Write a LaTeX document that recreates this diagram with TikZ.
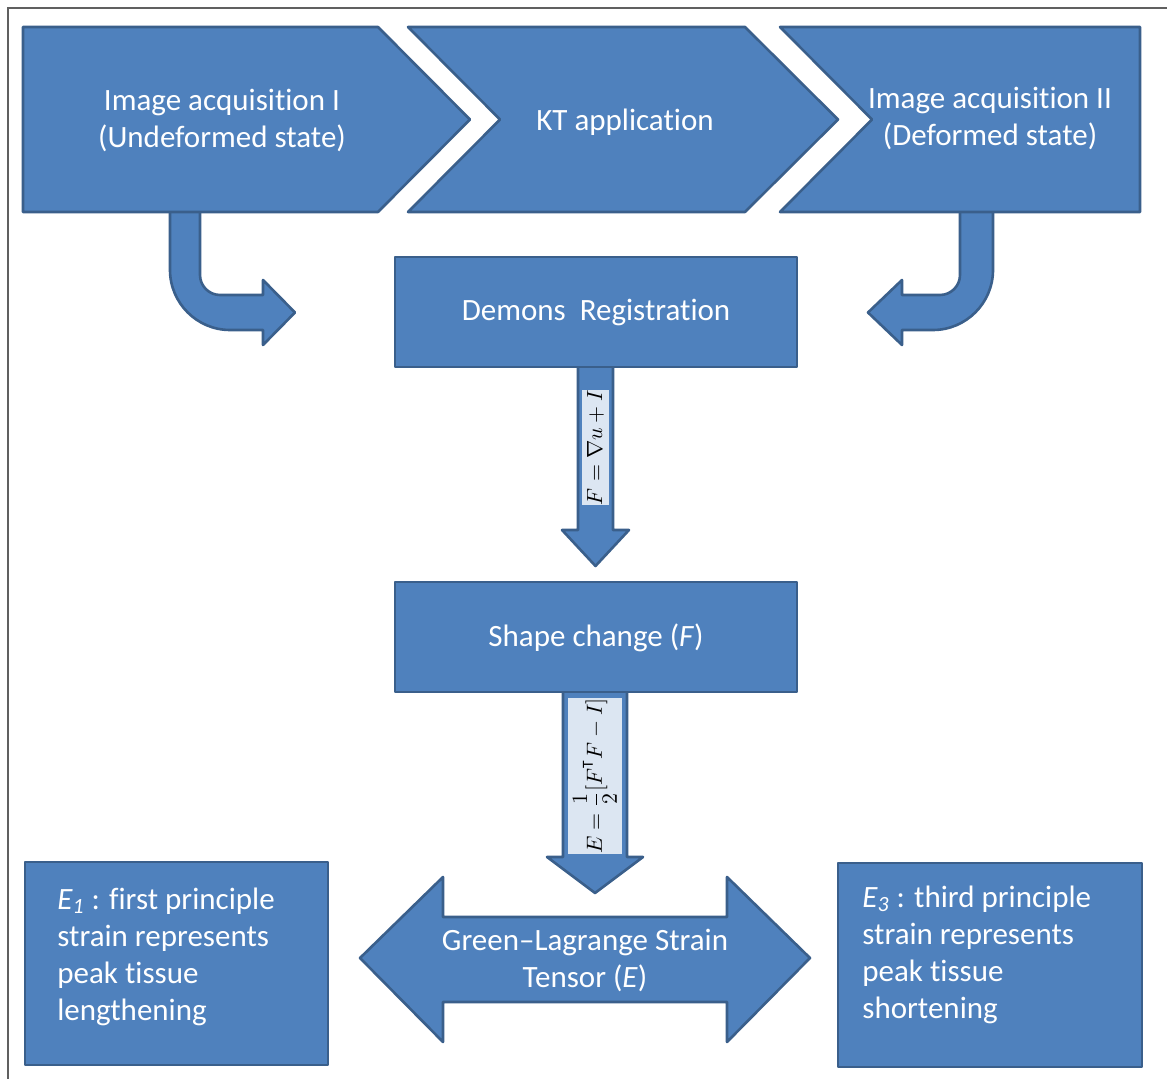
\documentclass[tikz,border=0pt]{standalone}
\usepackage{fontspec}
\setmainfont{Carlito}[Ligatures={TeX,NoCommon}]
\usepackage{amsmath}
\definecolor{blk}{HTML}{4F81BD}
\definecolor{blkline}{HTML}{3A5F8B}
\definecolor{labfill}{HTML}{DCE6F2}
\definecolor{frame}{HTML}{606060}
\begin{document}
\begin{tikzpicture}[x=0.5pt,y=-0.5pt,
  shp/.style={fill=blk,draw=blkline,line width=1.3pt,line join=round},
  txt/.style={text=white,font=\fontsize{15.5}{18.5}\selectfont,align=center,inner sep=0pt},
  ltxt/.style={text=white,font=\fontsize{15.5}{18.5}\selectfont,align=left,inner sep=0pt,anchor=west},
  lab/.style={fill=labfill,rotate=90,inner sep=0pt,font=\fontsize{11}{13}\selectfont}]
\useasboundingbox (0,0) rectangle (1167,1079);
\fill[white] (0,0) rectangle (1167,1079);
% frame
\draw[frame,line width=0.6pt] (8,1079) -- (8,8) -- (1167,8);
% bent arrows (under chevrons)
\draw[shp] (170,200) -- (170,270) .. controls (170,303) and (197,330) .. (230,330)
  -- (263,330) -- (263,345) -- (295,312.5) -- (263,280) -- (263,295) -- (220,295)
  .. controls (209,295) and (200,286) .. (200,275) -- (200,200) -- cycle;
\draw[shp] (993,200) -- (993,270) .. controls (993,303) and (966,330) .. (933,330)
  -- (902,330) -- (902,345) -- (868,312.5) -- (902,280) -- (902,295) -- (940,295)
  .. controls (951,295) and (960,286) .. (960,275) -- (960,200) -- cycle;
% chevrons
\draw[shp] (23,27) -- (378,27) -- (470,119.5) -- (378,212) -- (23,212) -- cycle;
\draw[shp] (408,27) -- (745,27) -- (838,119.5) -- (745,212) -- (408,212) -- (500,119.5) -- cycle;
\draw[shp] (780,27) -- (1140,27) -- (1140,212) -- (780,212) -- (872,119.5) -- cycle;
\node[txt] (acq1) at (222,120.5) {Image acquisition I\\(Undeformed state)};
\node[txt] (kt) at (625,122) {KT application};
\node[txt] (acq2) at (990,118.5) {Image acquisition II\\(Deformed state)};
% down arrows
\draw[shp] (578,360) -- (578,530) -- (562,530) -- (595.5,566) -- (629,530) -- (613,530) -- (613,360) -- cycle;
\draw[shp] (563,685) -- (563,857) -- (547,857) -- (595,893) -- (643,857) -- (627,857) -- (627,685) -- cycle;
% boxes
\draw[shp] (395,257) rectangle (797,367);
\node[txt] (dem) at (596,313) {Demons\ \ Registration};
\draw[shp] (395,582) rectangle (797,692);
\node[txt] (shape) at (596,638) {Shape change (\textit{F})};
\node[lab,minimum width=57.5pt,minimum height=13.5pt] (lab1) at (595.5,447.5) {$F=\nabla u+I$};
\node[lab,minimum width=76pt,minimum height=27pt] (lab2) at (595,776) {$\displaystyle E=\frac{1}{2}[F^{\mathrm{T}}F-I]$};
% double arrow
\draw[shp] (360,958) -- (443,877) -- (443,917) -- (727,917) -- (727,877) -- (810,958)
  -- (727,1042) -- (727,1002) -- (443,1002) -- (443,1042) -- cycle;
\node[txt] (gl) at (585,960) {Green–Lagrange Strain\\Tensor (\textit{E})};
% side boxes
\draw[shp] (25,862) rectangle (328,1065);
\node[ltxt] (e1) at (57,957) {\textit{E\textsubscript{1}} : first principle\\strain represents\\peak tissue\\lengthening};
\draw[shp] (838,863) rectangle (1142,1067);
\node[ltxt] (e3) at (862,955) {\textit{E\textsubscript{3}} : third principle\\strain represents\\peak tissue\\shortening};
\end{tikzpicture}
\end{document}
